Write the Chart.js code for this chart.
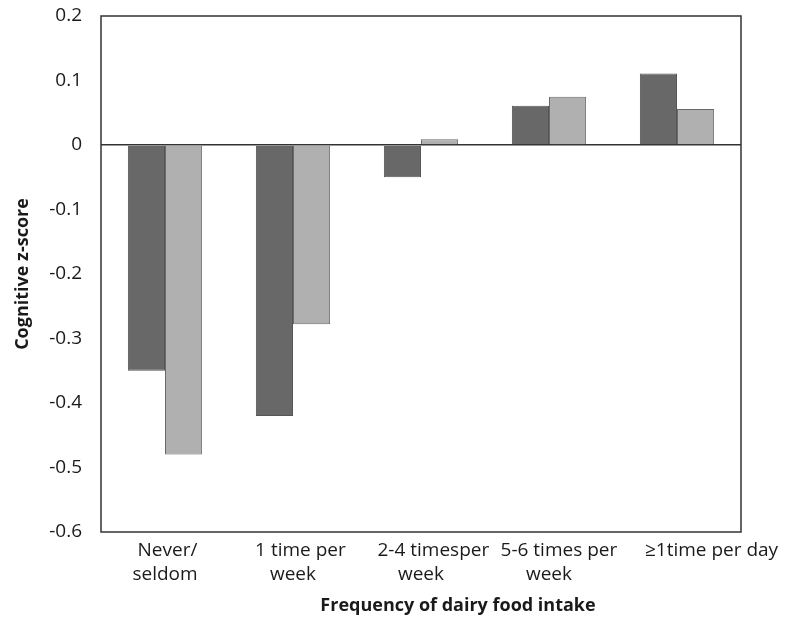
<!DOCTYPE html>
<html>
<head>
<meta charset="utf-8">
<script src="https://cdn.jsdelivr.net/npm/chart.js@4.4.1/dist/chart.umd.min.js"></script>
<style>
  html, body { margin: 0; padding: 0; background: #fff; }
  #wrap { width: 785px; height: 631px; }
</style>
</head>
<body>
<div id="wrap"><canvas id="dairyChart"></canvas></div>
<script>
// Chart data
const categories = [
    [' Never/', 'seldom'],
    ['   1 time per', 'week'],
    ['     2-4 timesper', 'week'],
    ['    5-6 times per', 'week'],
    ['              \u22651time per day']
];
const seriesDark = [-0.35, -0.42, -0.05, 0.061, 0.111];
const seriesLight = [-0.48, -0.278, 0.009, 0.075, 0.056];
const yTicks = [0.2, 0.1, 0, -0.1, -0.2, -0.3, -0.4, -0.5, -0.6];
const xTitle = 'Frequency of dairy food intake';

const fontFamily = '"Open Sans", Lato, sans-serif';

// box round the plot area, plus the x axis title (sits right of centre in the original)
const frameBox = {
    id: 'frameBox',
    afterDraw(chart) {
        const { ctx, chartArea: a } = chart;
        ctx.save();
        ctx.strokeStyle = '#333';
        ctx.lineWidth = 1.5;
        ctx.strokeRect(a.left, a.top, a.right - a.left, a.bottom - a.top);

        ctx.fillStyle = '#1a1a1a';
        ctx.font = 'bold 18px ' + fontFamily;
        ctx.textAlign = 'center';
        ctx.textBaseline = 'middle';
        ctx.fillText(xTitle, (a.left + a.right) / 2 + 37, 606);
        ctx.restore();
    }
};

document.addEventListener('DOMContentLoaded', () => {
    const ctx = document.getElementById('dairyChart');

    new Chart(ctx, {
        type: 'bar',
        data: {
            labels: categories,
            datasets: [{
                data: seriesDark,
                backgroundColor: '#686868',
                borderColor: '#555555',
                borderWidth: 1
            }, {
                data: seriesLight,
                backgroundColor: '#b0b0b0',
                borderColor: '#6a6a6a',
                borderWidth: 1
            }]
        },
        options: {
            responsive: true,
            maintainAspectRatio: false,
            animation: false,
            layout: { padding: { top: 16, right: 44, left: 0, bottom: 0 } },
            plugins: { legend: { display: false }, tooltip: { enabled: false } },
            datasets: { bar: { barPercentage: 1, categoryPercentage: 0.58 } },
            scales: {
                x: {
                    grid: { display: false, drawTicks: false },
                    border: { display: false },
                    ticks: {
                        color: '#1a1a1a',
                        font: { family: fontFamily, size: 19, lineHeight: 1.26 },
                        padding: 7,
                        maxRotation: 0,
                        autoSkip: false
                    },
                    afterFit(scale) {
                        scale.height = 631 - 532;
                        scale.paddingLeft = 0;
                        scale.paddingRight = 0;
                    }
                },
                y: {
                    min: -0.6,
                    max: 0.2,
                    afterBuildTicks(scale) { scale.ticks = yTicks.map(v => ({ value: v })); },
                    grid: {
                        drawTicks: false,
                        color: c => (c.tick && c.tick.value === 0) ? '#333' : 'rgba(0,0,0,0)',
                        lineWidth: 1.5
                    },
                    border: { display: false },
                    ticks: {
                        color: '#1a1a1a',
                        font: { family: fontFamily, size: 19 },
                        padding: 19,
                        callback: v => (Math.round(v * 10) / 10).toString()
                    },
                    title: {
                        display: true,
                        text: 'Cognitive z-score',
                        color: '#1a1a1a',
                        font: { family: fontFamily, size: 18, weight: 'bold' },
                        padding: { top: 12, bottom: 0 }
                    },
                    afterFit(scale) {
                        scale.width = 101;
                        scale.paddingTop = 0;
                        scale.paddingBottom = 0;
                    }
                }
            }
        },
        plugins: [frameBox]
    });
});
</script>
</body>
</html>
